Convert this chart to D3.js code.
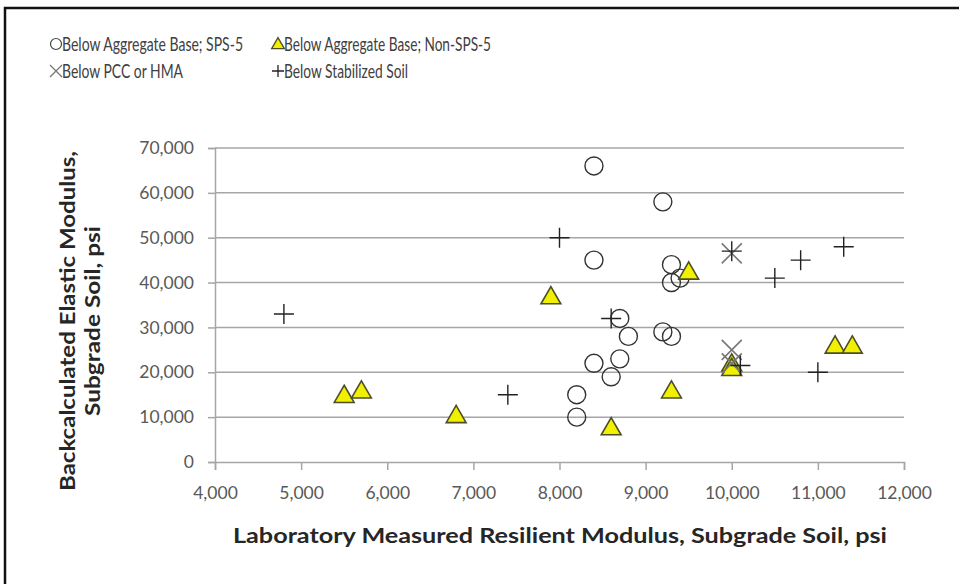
<!DOCTYPE html>
<html>
<head>
<meta charset="utf-8">
<script src="https://cdn.jsdelivr.net/npm/d3@7/dist/d3.min.js"></script>
<style>
  html, body { margin: 0; padding: 0; background: #fff; }
  svg { display: block; }
  text { font-family: Lato, "Open Sans", sans-serif; }
</style>
</head>
<body>
<script>
// Laboratory resilient modulus (x) vs backcalculated elastic modulus (y), psi
const seriesNames = [
  "Below Aggregate Base; SPS-5",
  "Below Aggregate Base; Non-SPS-5",
  "Below PCC or HMA",
  "Below Stabilized Soil"
];

const sps5X = [8400, 9200, 8400, 9300, 9300, 9400, 8700, 8800, 9200, 9300, 8700, 8400, 8600, 8200, 8200];
const sps5Y = [66000, 58000, 45000, 44000, 40000, 41000, 32000, 28000, 29000, 28000, 23000, 22000, 19000, 15000, 10000];

const nonSps5X = [5500, 5700, 6800, 7900, 9500, 8600, 9300, 10000, 10000, 11200, 11400];
const nonSps5Y = [15000, 16000, 10500, 37000, 42500, 7800, 16000, 22000, 21000, 26000, 26000];

const pccX = [10000, 10000, 10000];
const pccY = [46500, 25000, 22000];

const stabX = [4800, 7400, 8000, 8600, 10000, 10500, 10800, 11300, 11000, 10100];
const stabY = [33000, 15000, 50000, 32000, 47000, 41000, 45000, 48000, 20000, 21500];

const xTicks = [4000, 5000, 6000, 7000, 8000, 9000, 10000, 11000, 12000];
const yTicks = [0, 10000, 20000, 30000, 40000, 50000, 60000, 70000];

const xTitle = "Laboratory Measured Resilient Modulus, Subgrade Soil, psi";
const yTitleLines = ["Backcalculated Elastic Modulus,", "Subgrade Soil, psi"];

const W = 959, H = 584;
const plot = { left: 215, right: 904, top: 148, bottom: 462 };

const svg = d3.select("body").append("svg").attr("width", W).attr("height", H);

// frame around the figure (runs off the right and bottom edges)
svg.append("rect")
  .attr("x", 5).attr("y", 8).attr("width", W + 10).attr("height", H + 10)
  .attr("fill", "#fff").attr("stroke", "#111").attr("stroke-width", 2.5);

const x = d3.scaleLinear().domain([4000, 12000]).range([plot.left, plot.right]);
const y = d3.scaleLinear().domain([0, 70000]).range([plot.bottom, plot.top]);
const fmt = d3.format(",");

const gridColor = "#a6a6a6";
const tickText = "#595959";
const tickFont = 'Lato, "Open Sans", sans-serif';

// horizontal gridlines
svg.append("g").selectAll("line")
  .data(yTicks.filter(d => d > 0))
  .join("line")
  .attr("x1", plot.left).attr("x2", plot.right)
  .attr("y1", d => y(d)).attr("y2", d => y(d))
  .attr("stroke", gridColor).attr("stroke-width", 1.5);

// y axis
const yAxis = svg.append("g")
  .attr("transform", `translate(${plot.left},0)`)
  .call(d3.axisLeft(y).tickValues(yTicks).tickFormat(fmt).tickSize(7).tickPadding(14));
yAxis.select(".domain").attr("stroke", gridColor).attr("stroke-width", 1.5);
yAxis.selectAll(".tick line").attr("stroke", gridColor).attr("stroke-width", 1.5);
yAxis.selectAll(".tick text").attr("fill", tickText).attr("font-size", 17.5)
  .attr("font-family", tickFont);

// x axis
const xAxis = svg.append("g")
  .attr("transform", `translate(0,${plot.bottom})`)
  .call(d3.axisBottom(x).tickValues(xTicks).tickFormat(fmt).tickSize(8).tickPadding(17));
xAxis.select(".domain").attr("stroke", gridColor).attr("stroke-width", 1.5);
xAxis.selectAll(".tick line").attr("stroke", gridColor).attr("stroke-width", 1.5);
xAxis.selectAll(".tick text").attr("fill", tickText).attr("font-size", 17.5)
  .attr("font-family", tickFont);

// axis titles
const titleFont = '"Open Sans", Lato, sans-serif';
svg.append("text")
  .attr("x", 560).attr("y", 543)
  .attr("text-anchor", "middle")
  .attr("font-family", titleFont)
  .attr("font-size", 20).attr("font-weight", "bold").attr("fill", "#262626")
  .attr("textLength", 654).attr("lengthAdjust", "spacingAndGlyphs")
  .text(xTitle);

const yTitleLen = [340, 190];
const yt = svg.append("text")
  .attr("transform", "translate(75,321) rotate(-90)")
  .attr("text-anchor", "middle")
  .attr("font-family", titleFont)
  .attr("font-size", 20).attr("font-weight", "bold").attr("fill", "#262626");
yt.selectAll("tspan").data(yTitleLines).join("tspan")
  .attr("x", 0).attr("dy", (d, i) => i === 0 ? 0 : 25)
  .attr("textLength", (d, i) => yTitleLen[i]).attr("lengthAdjust", "spacingAndGlyphs")
  .text(d => d);

// marker symbols
const circleSym = d3.symbol().type(d3.symbolCircle).size(Math.PI * 9 * 9);
const triSym = d3.symbol().type(d3.symbolTriangle).size(170);
const crossPath = s => `M${-s},${-s}L${s},${s}M${-s},${s}L${s},${-s}`;
const plusPath = s => `M${-s},0L${s},0M0,${-s}L0,${s}`;

const pts = (xs, ys) => xs.map((v, i) => [v, ys[i]]);

const marks = svg.append("g");

marks.append("g").selectAll("path")
  .data(pts(sps5X, sps5Y)).join("path")
  .attr("transform", d => `translate(${x(d[0])},${y(d[1])})`)
  .attr("d", circleSym)
  .attr("fill", "none").attr("stroke", "#333").attr("stroke-width", 1.4);

marks.append("g").selectAll("path")
  .data(pts(nonSps5X, nonSps5Y)).join("path")
  .attr("transform", d => `translate(${x(d[0])},${y(d[1]) + 2})`)
  .attr("d", triSym)
  .attr("fill", "#f0f000").attr("stroke", "#4d4d2a").attr("stroke-width", 1.6);

marks.append("g").selectAll("path")
  .data(pts(pccX, pccY)).join("path")
  .attr("transform", d => `translate(${x(d[0])},${y(d[1])})`)
  .attr("d", crossPath(10))
  .attr("fill", "none").attr("stroke", "#777").attr("stroke-width", 1.6);

marks.append("g").selectAll("path")
  .data(pts(stabX, stabY)).join("path")
  .attr("transform", d => `translate(${x(d[0])},${y(d[1])})`)
  .attr("d", plusPath(10))
  .attr("fill", "none").attr("stroke", "#222").attr("stroke-width", 1.4);

// legend
const legendItems = [
  { name: seriesNames[0], lx: 56, ly: 44, kind: "circle", len: 181 },
  { name: seriesNames[1], lx: 278, ly: 44, kind: "tri", len: 207 },
  { name: seriesNames[2], lx: 56, ly: 71, kind: "cross", len: 121 },
  { name: seriesNames[3], lx: 278, ly: 71, kind: "plus", len: 124 }
];
const lg = svg.append("g").selectAll("g").data(legendItems).join("g")
  .attr("transform", d => `translate(${d.lx},${d.ly})`);
lg.filter(d => d.kind === "circle").append("circle")
  .attr("r", 5.5).attr("fill", "none").attr("stroke", "#444").attr("stroke-width", 1.2);
lg.filter(d => d.kind === "tri").append("path")
  .attr("d", d3.symbol().type(d3.symbolTriangle).size(70)).attr("transform", "translate(0,1)")
  .attr("fill", "#f0f000").attr("stroke", "#4d4d2a").attr("stroke-width", 1.3);
lg.filter(d => d.kind === "cross").append("path")
  .attr("d", crossPath(6)).attr("stroke", "#777").attr("stroke-width", 1.3);
lg.filter(d => d.kind === "plus").append("path")
  .attr("d", plusPath(6)).attr("stroke", "#222").attr("stroke-width", 1.3);
lg.append("text")
  .attr("x", 6).attr("y", 6.5)
  .attr("font-size", 19).attr("fill", "#404040")
  .attr("textLength", d => d.len).attr("lengthAdjust", "spacingAndGlyphs")
  .text(d => d.name);
</script>
</body>
</html>
